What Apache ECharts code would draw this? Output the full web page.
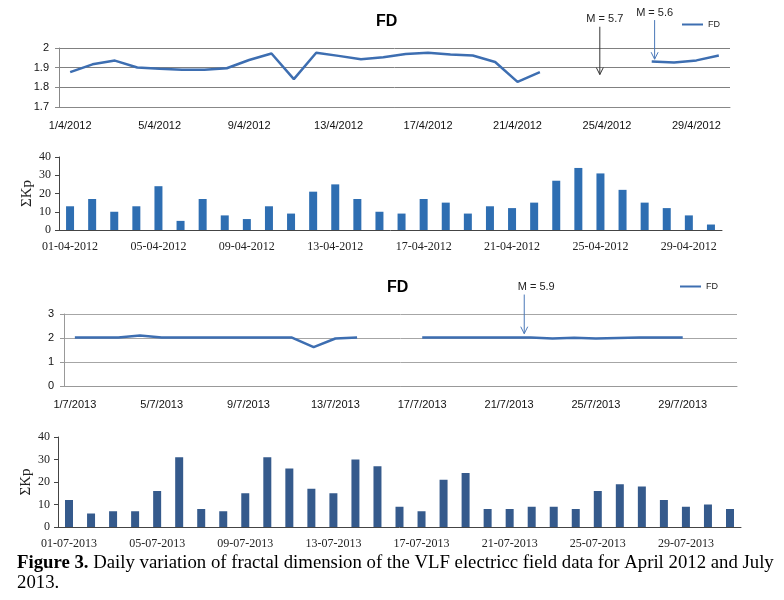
<!DOCTYPE html>
<html>
<head>
<meta charset="utf-8">
<script src="https://cdn.jsdelivr.net/npm/echarts@6/dist/echarts.min.js"></script>
<style>
html, body { margin: 0; padding: 0; background: #fff; }
#main { width: 784px; height: 600px; }
</style>
</head>
<body>
<div id="main"></div>
<script>
// days of each month
var aprDays = [1,2,3,4,5,6,7,8,9,10,11,12,13,14,15,16,17,18,19,20,21,22,23,24,25,26,27,28,29,30];
var julDays = [1,2,3,4,5,6,7,8,9,10,11,12,13,14,15,16,17,18,19,20,21,22,23,24,25,26,27,28,29,30,31];

function pad(d) { return d < 10 ? '0' + d : '' + d; }
var aprFdLabels = aprDays.map(function (d) { return d + '/4/2012'; });
var aprKpLabels = aprDays.map(function (d) { return pad(d) + '-04-2012'; });
var julFdLabels = julDays.map(function (d) { return d + '/7/2013'; });
var julKpLabels = julDays.map(function (d) { return pad(d) + '-07-2013'; });

// fractal dimension (null = no data)
var aprFd = [1.877, 1.917, 1.936, 1.901, 1.894, 1.889, 1.889, 1.897, 1.939, 1.972,
             1.842, 1.976, 1.96, 1.943, 1.953, 1.97, 1.976, 1.967, 1.962, 1.929,
             1.828, 1.877, null, null, null, null, 1.931, 1.926, 1.937, 1.962];
var julFd = [2.02, 2.02, 2.02, 2.1, 2.02, 2.02, 2.02, 2.02, 2.02, 2.02,
             2.02, 1.62, 1.98, 2.02, null, null, 2.02, 2.02, 2.02, 2.02,
             2.02, 2.02, 1.98, 2.01, 1.98, 2.0, 2.02, 2.02, 2.02, null, null];

// daily sum Kp
var aprKp = [13, 17, 10, 13, 24, 5, 17, 8, 6, 13, 9, 21, 25, 17, 10,
             9, 17, 15, 9, 13, 12, 15, 27, 34, 31, 22, 15, 12, 8, 3];
var julKp = [12, 6, 7, 7, 16, 31, 8, 7, 15, 31, 26, 17, 15, 30, 27, 9,
             7, 21, 24, 8, 8, 9, 9, 8, 16, 19, 18, 12, 9, 10, 8];

// earthquake markers: category position, arrow top / bottom (FD units)
var aprMarks = [
    {cat: 23.68, top: 2.108, bottom: 1.865, text: 'M = 5.7', color: '#333', dx: 5},
    {cat: 26.13, top: 2.142, bottom: 1.943, text: 'M = 5.6', color: '#4a78b8', dx: 0}
];
var julMarks = [
    {cat: 20.7, top: 3.81, bottom: 2.18, text: 'M = 5.9', color: '#4a78b8', dx: 12}
];

var lineBlue = '#3d6eb1';
var sans = 'Liberation Sans';
var serif = 'Liberation Serif';

var chart = echarts.init(document.getElementById('main'));

function fdXAxis(idx, labels, color) {
    return {
        type: 'category', gridIndex: idx, data: labels,
        axisLine: {lineStyle: {color: color}},
        axisTick: {interval: 3, length: 5, lineStyle: {color: color}},
        axisLabel: {interval: 3, margin: 13, color: '#111', fontFamily: sans, fontSize: 11}
    };
}
function kpXAxis(idx, labels) {
    return {
        type: 'category', gridIndex: idx, data: labels,
        axisLine: {lineStyle: {color: '#444'}},
        axisTick: {interval: 3, length: 4, lineStyle: {color: '#444'}},
        axisLabel: {interval: 3, margin: 11, color: '#222', fontFamily: serif, fontSize: 12}
    };
}
function kpYAxis(idx) {
    return {
        type: 'value', gridIndex: idx, min: 0, max: 40, interval: 10,
        name: 'ΣKp', nameLocation: 'middle', nameRotate: 90, nameGap: 24,
        nameMoveOverlap: false,
        nameTextStyle: {fontFamily: serif, fontSize: 15, color: '#222'},
        axisLine: {show: true, lineStyle: {color: '#444'}},
        axisTick: {show: true, length: 4, lineStyle: {color: '#444'}},
        splitLine: {show: false},
        axisLabel: {margin: 8, color: '#222', fontFamily: serif, fontSize: 12}
    };
}

var option = {
    animation: false,
    title: [
        {text: 'FD', left: 376, top: 14, padding: 0,
         textStyle: {fontFamily: sans, fontSize: 16, fontWeight: 'bold', color: '#000'}},
        {text: 'FD', left: 387, top: 280, padding: 0,
         textStyle: {fontFamily: sans, fontSize: 16, fontWeight: 'bold', color: '#000'}}
    ],
    legend: [
        {data: ['FD'], left: 682, top: 20, padding: 0, icon: 'rect', itemWidth: 21, itemHeight: 2,
         selectedMode: false, textStyle: {fontFamily: sans, fontSize: 9, color: '#222'}},
        {data: ['FD'], left: 680, top: 282, padding: 0, icon: 'rect', itemWidth: 21, itemHeight: 2,
         selectedMode: false, textStyle: {fontFamily: sans, fontSize: 9, color: '#222'}}
    ],
    grid: [
        {left: 59, top: 48, width: 671, height: 59},
        {left: 59, top: 157, width: 663, height: 73},
        {left: 64, top: 314, width: 673, height: 72},
        {left: 58, top: 437, width: 683, height: 90}
    ],
    xAxis: [
        fdXAxis(0, aprFdLabels, '#888'),
        kpXAxis(1, aprKpLabels),
        fdXAxis(2, julFdLabels, '#999'),
        kpXAxis(3, julKpLabels)
    ],
    yAxis: [
        {type: 'value', gridIndex: 0, min: 1.7, max: 2, interval: 0.1,
         axisLine: {show: true, lineStyle: {color: '#888'}},
         axisTick: {show: true, length: 4, lineStyle: {color: '#888'}},
         splitLine: {lineStyle: {color: '#808080'}},
         axisLabel: {margin: 10, color: '#111', fontFamily: sans, fontSize: 11}},
        kpYAxis(1),
        {type: 'value', gridIndex: 2, min: 0, max: 3, interval: 1,
         axisLine: {show: true, lineStyle: {color: '#999'}},
         axisTick: {show: true, length: 4, lineStyle: {color: '#999'}},
         splitLine: {lineStyle: {color: '#a6a6a6'}},
         axisLabel: {margin: 10, color: '#111', fontFamily: sans, fontSize: 11}},
        kpYAxis(3)
    ],
    series: [
        {name: 'FD', type: 'line', xAxisIndex: 0, yAxisIndex: 0, data: aprFd,
         symbol: 'none', connectNulls: false,
         lineStyle: {width: 2.5, color: lineBlue}, itemStyle: {color: lineBlue}},
        {name: 'Kp Apr', type: 'bar', xAxisIndex: 1, yAxisIndex: 1, data: aprKp,
         barWidth: 8, itemStyle: {color: '#2e6eb2'}},
        {name: 'FD', type: 'line', xAxisIndex: 2, yAxisIndex: 2, data: julFd,
         symbol: 'none', connectNulls: false,
         lineStyle: {width: 2.5, color: lineBlue}, itemStyle: {color: lineBlue}},
        {name: 'Kp Jul', type: 'bar', xAxisIndex: 3, yAxisIndex: 3, data: julKp,
         barWidth: 8, itemStyle: {color: '#355a8c'}}
    ]
};

chart.setOption(option);

// pixel position of a (possibly fractional) category and a value
function toPx(axis, cat, val) {
    var i = Math.floor(cat), f = cat - i;
    var a = chart.convertToPixel({xAxisIndex: axis, yAxisIndex: axis}, [i, val]);
    var b = chart.convertToPixel({xAxisIndex: axis, yAxisIndex: axis}, [i + 1, val]);
    return [a[0] + (b[0] - a[0]) * f, a[1]];
}

function markGraphics(axis, marks) {
    var out = [];
    marks.forEach(function (m) {
        var p1 = toPx(axis, m.cat, m.top);
        var p2 = toPx(axis, m.cat, m.bottom);
        out.push({type: 'line', shape: {x1: p1[0], y1: p1[1], x2: p2[0], y2: p2[1]},
                  style: {stroke: m.color, lineWidth: 1}});
        out.push({type: 'polyline',
                  shape: {points: [[p2[0] - 3.5, p2[1] - 7], [p2[0], p2[1]], [p2[0] + 3.5, p2[1] - 7]]},
                  style: {stroke: m.color, lineWidth: 1, fill: null}});
        out.push({type: 'text', x: p1[0] + m.dx, y: p1[1] - 2,
                  style: {text: m.text, fill: '#222', font: '11px "Liberation Sans"',
                          align: 'center', verticalAlign: 'bottom'}});
    });
    return out;
}

var graphics = markGraphics(0, aprMarks).concat(markGraphics(2, julMarks));
graphics.push({
    type: 'text', x: 17, y: 563,
    style: {
        text: '{b|Figure 3.} Daily variation of fractal dimension of the VLF electricc field data for April 2012 and July',
        rich: {b: {fontWeight: 'bold', fontFamily: serif, fontSize: 18.75, fill: '#000'}},
        fontFamily: serif, fontSize: 18.75, fill: '#000', verticalAlign: 'middle'
    }
});
graphics.push({
    type: 'text', x: 17, y: 583,
    style: {text: '2013.', fontFamily: serif, fontSize: 18.75, fill: '#000', verticalAlign: 'middle'}
});

chart.setOption({graphic: graphics});
</script>
</body>
</html>
